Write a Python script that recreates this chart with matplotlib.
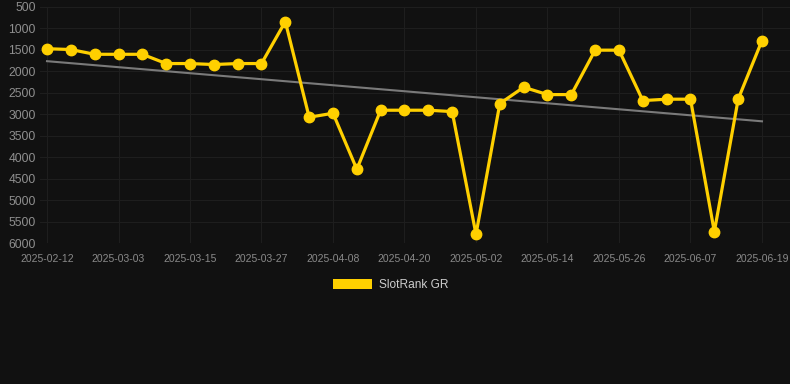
import matplotlib
matplotlib.use("Agg")
import matplotlib.pyplot as plt
from matplotlib.patches import Patch
import numpy as np

plt.rcParams['font.family'] = ['Liberation Sans', 'DejaVu Sans']

# one point per snapshot, drawn at equal spacing
dates = ['2025-02-12', '2025-02-23', '2025-02-27', '2025-03-03', '2025-03-07',
         '2025-03-11', '2025-03-15', '2025-03-19', '2025-03-23', '2025-03-27',
         '2025-03-31', '2025-04-04', '2025-04-08', '2025-04-12', '2025-04-16',
         '2025-04-20', '2025-04-24', '2025-04-28', '2025-05-02', '2025-05-06',
         '2025-05-10', '2025-05-14', '2025-05-18', '2025-05-22', '2025-05-26',
         '2025-05-30', '2025-06-03', '2025-06-07', '2025-06-11', '2025-06-15',
         '2025-06-19']
ranks = [1480, 1500, 1610, 1610, 1610, 1825, 1825, 1848, 1825, 1825,
         850, 3072, 2979, 4281, 2909, 2909, 2909, 2941, 5792, 2755,
         2375, 2546, 2546, 1514, 1514, 2685, 2653, 2653, 5731, 2653,
         1290]
yticks = [500, 1000, 1500, 2000, 2500, 3000, 3500, 4000, 4500, 5000, 5500, 6000]

bg = '#111111'
yellow = '#FFD000'

fig = plt.figure(figsize=(7.9, 3.84), dpi=100, facecolor=bg)
ax = fig.add_axes([40 / 790, 1 - 243.3 / 384, 750 / 790, (243.3 - 6.5) / 384])
ax.set_facecolor(bg)

x = np.arange(len(ranks))

# trend line
k, b = np.polyfit(x, ranks, 1)
ax.plot(x, k * x + b, color='#7a7a7a', linewidth=1.5, zorder=2)

ax.plot(x, ranks, color=yellow, linewidth=2.3, marker='o', markersize=7.5,
        zorder=3)

ax.set_ylim(6000, 500)
ax.set_yticks(yticks)
ax.set_xlim(-7 / 23.83, 30 + 28 / 23.83)
ax.set_xticks(x[::3])
ax.set_xticklabels(dates[::3])

ax.grid(True, color='#1e1e1e', linewidth=0.8)
ax.set_axisbelow(True)
for s in ax.spines.values():
    s.set_visible(False)
ax.tick_params(axis='both', length=0)
ax.tick_params(axis='y', labelsize=8.7, labelcolor='#8f8f8f', pad=3)
ax.tick_params(axis='x', labelsize=7.5, labelcolor='#8a8a8a', pad=8)

handle = Patch(facecolor=yellow, edgecolor='none')
fig.legend([handle], ['SlotRank GR'], loc='center', bbox_to_anchor=(0.494, 1 - 285 / 384),
           frameon=False, fontsize=8.6, labelcolor='#cccccc',
           handlelength=3.3, handleheight=1.0, handletextpad=0.55)

fig.savefig('out.png', dpi=100, facecolor=bg)
